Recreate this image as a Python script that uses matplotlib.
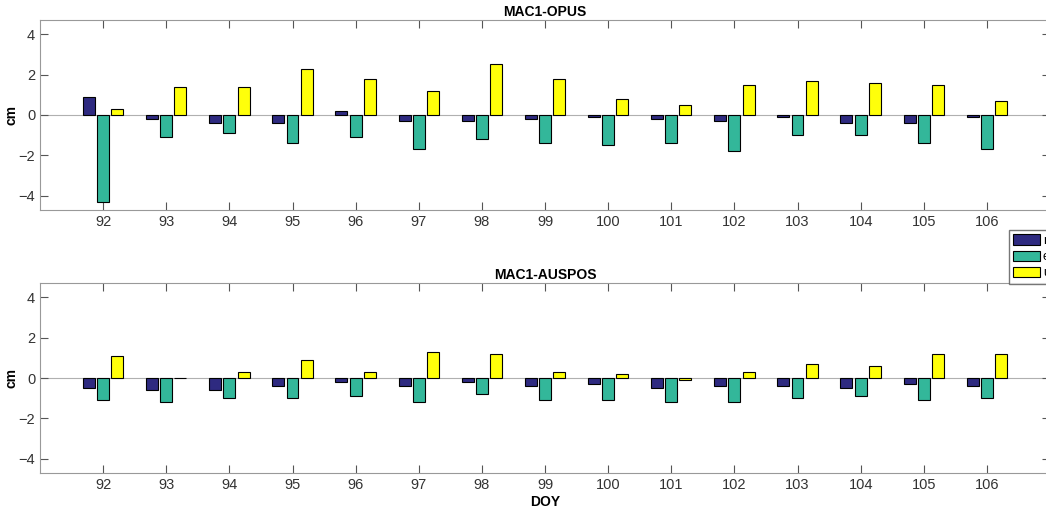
import numpy as np
import matplotlib
matplotlib.use('Agg')
import matplotlib.pyplot as plt
from matplotlib.patches import Patch

plt.rcParams['font.family'] = ['Liberation Sans', 'DejaVu Sans']

doy = [92, 93, 94, 95, 96, 97, 98, 99, 100, 101, 102, 103, 104, 105, 106]

# MAC1-OPUS differences (cm)
opus_n = [0.9, -0.2, -0.4, -0.4, 0.2, -0.3, -0.3, -0.2, -0.1, -0.2, -0.3, -0.1, -0.4, -0.4, -0.1]
opus_e = [-4.3, -1.1, -0.9, -1.4, -1.1, -1.7, -1.2, -1.4, -1.5, -1.4, -1.8, -1.0, -1.0, -1.4, -1.7]
opus_u = [0.3, 1.4, 1.4, 2.3, 1.8, 1.2, 2.5, 1.8, 0.8, 0.5, 1.5, 1.7, 1.6, 1.5, 0.7]

# MAC1-AUSPOS differences (cm)
aus_n = [-0.5, -0.6, -0.6, -0.4, -0.2, -0.4, -0.2, -0.4, -0.3, -0.5, -0.4, -0.4, -0.5, -0.3, -0.4]
aus_e = [-1.1, -1.2, -1.0, -1.0, -0.9, -1.2, -0.8, -1.1, -1.1, -1.2, -1.2, -1.0, -0.9, -1.1, -1.0]
aus_u = [1.1, 0.0, 0.3, 0.9, 0.3, 1.3, 1.2, 0.3, 0.2, -0.1, 0.3, 0.7, 0.6, 1.2, 1.2]

labels = ['n', 'e', 'u']
colors = ['#2e2a80', '#33b79a', '#ffff0a']

fig = plt.figure(figsize=(10.46, 5.13), dpi=100)
W, H = 1046.0, 513.0
ax1 = fig.add_axes([40 / W, 1 - 210 / H, 1010 / W, 190 / H])
ax2 = fig.add_axes([40 / W, 1 - 473 / H, 1010 / W, 190 / H])

x = np.array(doy, dtype=float)
offsets = [-0.225, 0.0, 0.225]
width = 0.19


def draw_panel(ax, series, title):
    ax.axhline(0, color='#b0b0b0', linewidth=0.8, zorder=1)
    for vals, off, c in zip(series, offsets, colors):
        ax.bar(x + off, vals, width=width, color=c, edgecolor='black',
               linewidth=0.8, zorder=2)
    ax.set_xlim(91, 107)
    ax.set_ylim(-4.7, 4.7)
    ax.set_xticks(doy)
    ax.set_yticks([-4, -2, 0, 2, 4])
    ax.tick_params(direction='in', length=6, width=0.8, colors='#555555',
                   labelcolor='#333333', labelsize=10.5,
                   top=True, right=True)
    for s in ax.spines.values():
        s.set_color('#999999')
        s.set_linewidth(0.8)
    ax.set_ylabel('cm', fontweight='bold', fontsize=10, labelpad=0)
    ax.set_title(title, fontweight='bold', fontsize=10, pad=3)


draw_panel(ax1, [opus_n, opus_e, opus_u], 'MAC1-OPUS')
draw_panel(ax2, [aus_n, aus_e, aus_u], 'MAC1-AUSPOS')
ax2.set_xlabel('DOY', fontweight='bold', fontsize=10, labelpad=2)

# legend sits at the right edge and runs off the figure, as in the source
handles = [Patch(facecolor=c, edgecolor='black', linewidth=0.8) for c in colors]
fig.legend(handles, labels, loc='upper left',
           bbox_to_anchor=(1009 / W, 1 - 230 / H), borderaxespad=0,
           fontsize=9, frameon=True, fancybox=False, edgecolor='#555555',
           handlelength=2.1, handleheight=0.9, labelspacing=0.3,
           borderpad=0.35, handletextpad=0.25)

fig.savefig('out.png', dpi=100)
